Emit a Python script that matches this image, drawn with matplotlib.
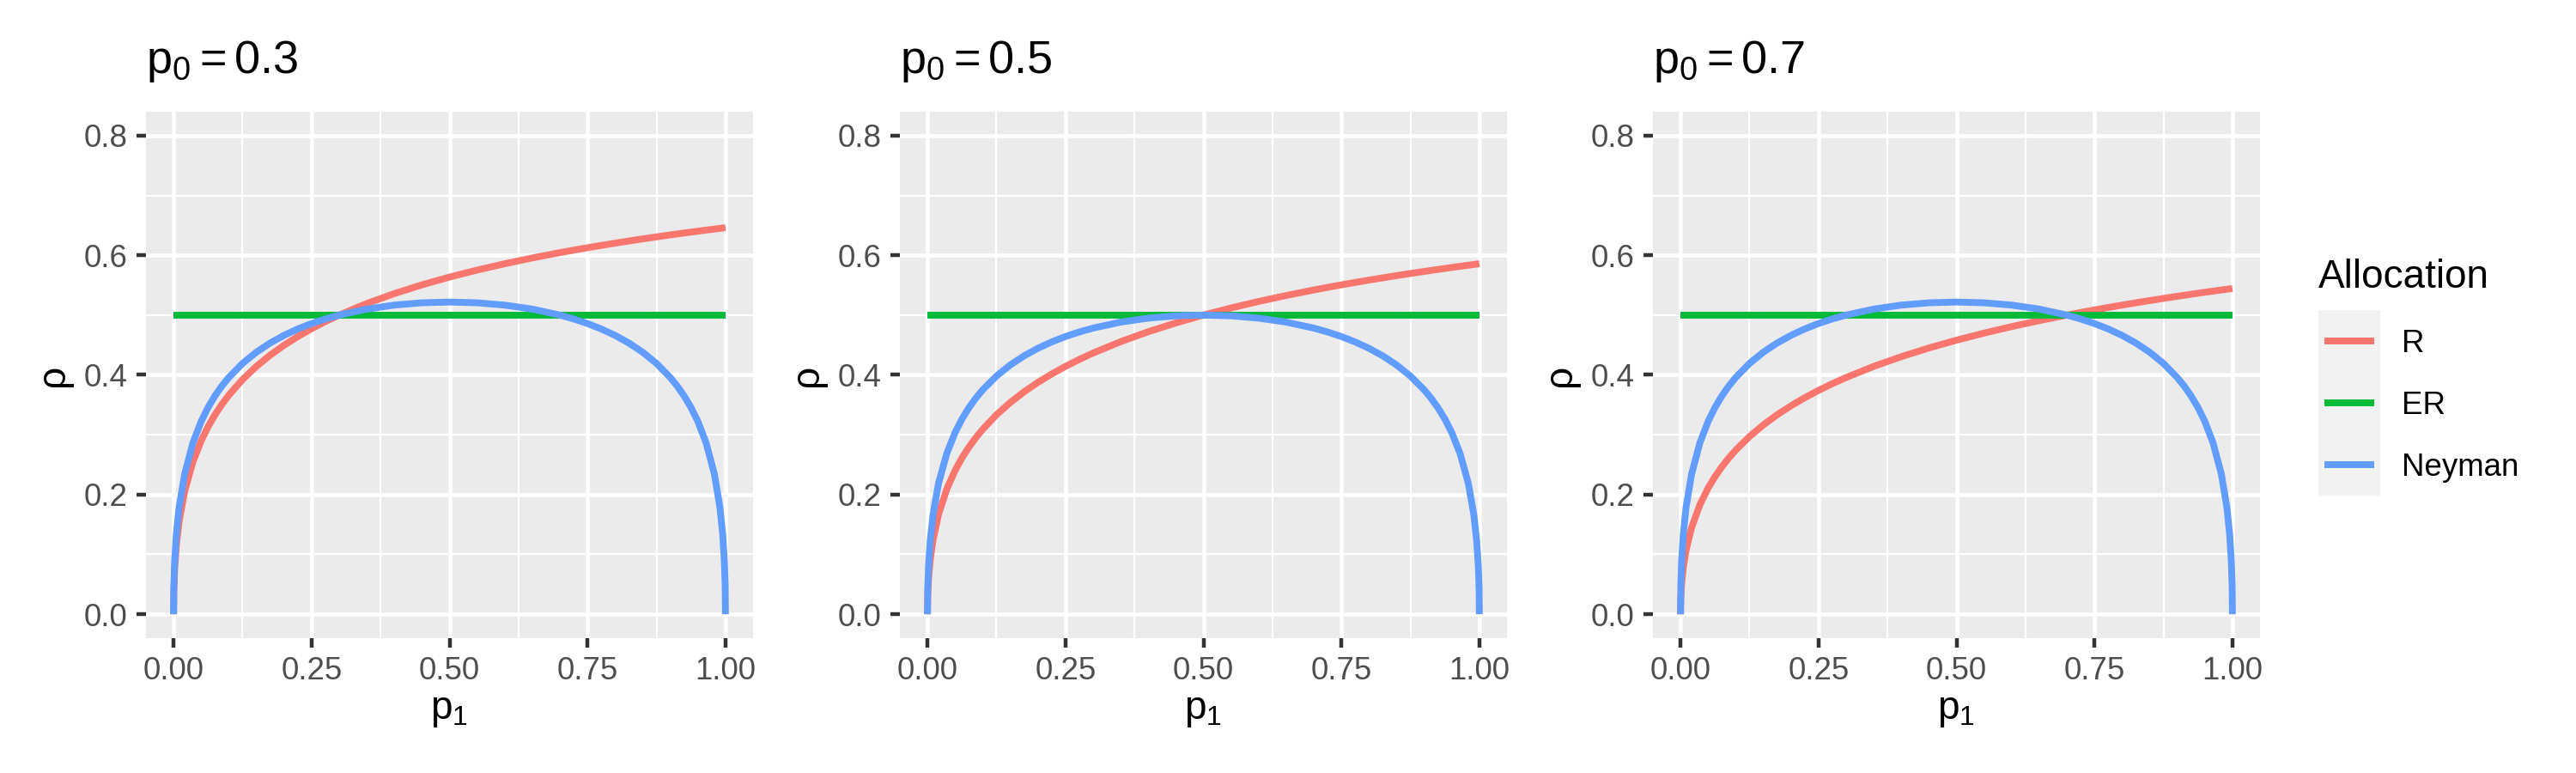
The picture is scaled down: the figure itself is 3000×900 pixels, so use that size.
import matplotlib.pyplot as plt

plt.rcParams['font.family'] = ['Liberation Sans', 'DejaVu Sans']
plt.rcParams['mathtext.fontset'] = 'custom'
plt.rcParams['mathtext.rm'] = 'Liberation Sans'
plt.rcParams['mathtext.it'] = 'Liberation Sans:italic'

# values
p0_values = [0.3, 0.5, 0.7]
allocations = ['R', 'ER', 'Neyman']
colors = ['#F8766D', '#00BA38', '#619CFF']

p1 = [0, 0.0005, 0.002, 0.005, 0.01, 0.02, 0.035, 0.05,
      0.0625, 0.075, 0.0875, 0.1,
      0.125, 0.15, 0.175, 0.2, 0.225, 0.25, 0.275, 0.3,
      0.35, 0.4, 0.45, 0.5,
      0.55, 0.6, 0.65, 0.7,
      0.725, 0.75, 0.775, 0.8, 0.825, 0.85, 0.875, 0.9,
      0.9125, 0.925, 0.9375, 0.95,
      0.965, 0.98, 0.99, 0.995, 0.998, 0.9995, 1]

rho_r_03 = [0, 0.03922, 0.07549, 0.11434, 0.15439, 0.20521, 0.25460, 0.28990,
            0.31339, 0.33333, 0.35067, 0.36603,
            0.39228, 0.41421, 0.43303, 0.44949, 0.46410, 0.47723, 0.48912, 0.50000,
            0.51926, 0.53590, 0.55051, 0.56351,
            0.57520, 0.58579, 0.59546, 0.60436,
            0.60854, 0.61258, 0.61646, 0.62020, 0.62382, 0.62732, 0.63070, 0.63397,
            0.63557, 0.63715, 0.63870, 0.64023,
            0.64203, 0.64380, 0.64497, 0.64554, 0.64588, 0.64606, 0.64612]
rho_r_05 = [0, 0.03065, 0.05948, 0.09091, 0.12390, 0.16667, 0.20922, 0.24025,
            0.26120, 0.27917, 0.29494, 0.30902,
            0.33333, 0.35389, 0.37170, 0.38743, 0.40149, 0.41421, 0.42582, 0.43649,
            0.45553, 0.47213, 0.48683, 0.50000,
            0.51191, 0.52277, 0.53274, 0.54196,
            0.54631, 0.55051, 0.55456, 0.55848, 0.56227, 0.56594, 0.56950, 0.57295,
            0.57463, 0.57630, 0.57794, 0.57955,
            0.58146, 0.58333, 0.58457, 0.58518, 0.58554, 0.58572, 0.58579]
rho_r_07 = [0, 0.02603, 0.05074, 0.07793, 0.10676, 0.14459, 0.18274, 0.21090,
            0.23006, 0.24661, 0.26120, 0.27429,
            0.29705, 0.31643, 0.33333, 0.34833, 0.36182, 0.37407, 0.38529, 0.39564,
            0.41421, 0.43050, 0.44499, 0.45804,
            0.46989, 0.48074, 0.49074, 0.50000,
            0.50439, 0.50862, 0.51272, 0.51668, 0.52053, 0.52425, 0.52786, 0.53137,
            0.53309, 0.53478, 0.53645, 0.53810,
            0.54004, 0.54196, 0.54322, 0.54385, 0.54422, 0.54440, 0.54447]

rho_ney_03 = [0, 0.04652, 0.08884, 0.13338, 0.17839, 0.23401, 0.28624, 0.32230,
              0.34564, 0.36498, 0.38142, 0.39564,
              0.41917, 0.43795, 0.45330, 0.46606, 0.47678, 0.48584, 0.49351, 0.50000,
              0.51000, 0.51669, 0.52052, 0.52178,
              0.52052, 0.51669, 0.51000, 0.50000,
              0.49351, 0.48584, 0.47678, 0.46606, 0.45330, 0.43795, 0.41917, 0.39564,
              0.38142, 0.36498, 0.34564, 0.32230,
              0.28624, 0.23401, 0.17839, 0.13338, 0.08884, 0.04652, 0]
rho_ney_05 = [0, 0.04281, 0.08203, 0.12362, 0.16597, 0.21875, 0.26877, 0.30356,
              0.32620, 0.34503, 0.36108, 0.37500,
              0.39811, 0.41662, 0.43180, 0.44444, 0.45509, 0.46410, 0.47174, 0.47822,
              0.48821, 0.49490, 0.49874, 0.50000,
              0.49874, 0.49490, 0.48821, 0.47822,
              0.47174, 0.46410, 0.45509, 0.44444, 0.43180, 0.41662, 0.39811, 0.37500,
              0.36108, 0.34503, 0.32620, 0.30356,
              0.26877, 0.21875, 0.16597, 0.12362, 0.08203, 0.04281, 0]
rho_ney_07 = rho_ney_03

er_p1 = [0, 1]
er_rho = [0.5, 0.5]

rho_r = [rho_r_03, rho_r_05, rho_r_07]
rho_ney = [rho_ney_03, rho_ney_05, rho_ney_07]

x_ticks = [0, 0.25, 0.5, 0.75, 1]
x_ticklabels = ['0.00', '0.25', '0.50', '0.75', '1.00']
y_ticks = [0, 0.2, 0.4, 0.6, 0.8]
y_ticklabels = ['0.0', '0.2', '0.4', '0.6', '0.8']

W, H = 3000, 900


def px_box(left, top, right, bottom):
    return [left / W, 1 - bottom / H, (right - left) / W, (bottom - top) / H]


fig = plt.figure(figsize=(10, 3), dpi=300)

panel_lefts = [170, 1048, 1925]
panel_w = 707
panel_top, panel_bottom = 130, 743
lw = 1.9

for i, p0 in enumerate(p0_values):
    left = panel_lefts[i]
    ax = fig.add_axes(px_box(left, panel_top, left + panel_w, panel_bottom))
    ax.set_facecolor('#EBEBEB')
    for s in ax.spines.values():
        s.set_visible(False)

    # grid
    for v in [0.125, 0.375, 0.625, 0.875]:
        ax.axvline(v, color='white', lw=0.55, zorder=0.5)
    for v in [0.1, 0.3, 0.5, 0.7]:
        ax.axhline(v, color='white', lw=0.55, zorder=0.5)
    for v in x_ticks:
        ax.axvline(v, color='white', lw=1.1, zorder=0.6)
    for v in y_ticks:
        ax.axhline(v, color='white', lw=1.1, zorder=0.6)

    ax.plot(p1, rho_r[i], color=colors[0], lw=lw, solid_capstyle='butt', zorder=2)
    ax.plot(er_p1, er_rho, color=colors[1], lw=lw, solid_capstyle='butt', zorder=2)
    ax.plot(p1, rho_ney[i], color=colors[2], lw=lw, solid_capstyle='butt', zorder=2)

    ax.set_xlim(-0.05, 1.05)
    ax.set_ylim(-0.04, 0.84)
    ax.set_xticks(x_ticks)
    ax.set_xticklabels(x_ticklabels)
    ax.set_yticks(y_ticks)
    ax.set_yticklabels(y_ticklabels)
    ax.tick_params(axis='both', length=2.75, width=1.07, color='#333333',
                   labelcolor='#4D4D4D', labelsize=8.8, pad=2.4)

    # title and axis labels
    fig.text(left / W, 1 - 85 / H, r'$\mathrm{p}_{0} = %s$' % p0,
             fontsize=13, ha='left', va='baseline', color='black')
    fig.text((left + panel_w / 2) / W, 1 - 837 / H, r'$\mathrm{p}_{1}$',
             fontsize=11, ha='center', va='baseline', color='black')
    fig.text((left - 108) / W, 1 - 437 / H, 'ρ', rotation=90,
             fontsize=11, ha='center', va='center', color='black')

# legend
fig.text(2700 / W, 1 - 335 / H, 'Allocation', fontsize=11, ha='left', va='baseline')
lax = fig.add_axes(px_box(2700, 361, 2772, 577))
lax.set_facecolor('#F2F2F2')
for s in lax.spines.values():
    s.set_visible(False)
lax.set_xticks([])
lax.set_yticks([])
lax.set_xlim(0, 1)
lax.set_ylim(0, 3)
for k, (name, c) in enumerate(zip(allocations, colors)):
    yk = 2.5 - k
    lax.plot([0.1, 0.9], [yk, yk], color=c, lw=lw, solid_capstyle='butt')
    fig.text(2797 / W, 1 - (397 + 72 * k) / H, name, fontsize=8.8,
             ha='left', va='center_baseline')

fig.savefig('out.png', dpi=300)
